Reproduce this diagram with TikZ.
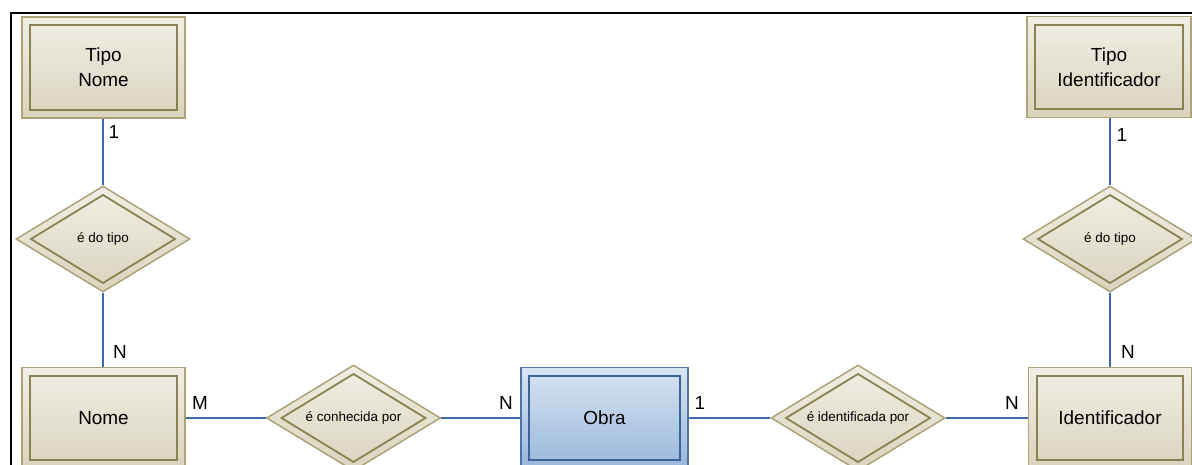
\documentclass[tikz,border=0pt]{standalone}
\usepackage{fontspec}
\setmainfont{Liberation Sans}
\usetikzlibrary{shapes.geometric}
\definecolor{begtop}{RGB}{240,238,229}
\definecolor{begbot}{RGB}{218,212,190}
\definecolor{begout}{RGB}{172,163,120}
\definecolor{begin}{RGB}{138,130,80}
\definecolor{blutop}{RGB}{216,228,242}
\definecolor{blubot}{RGB}{152,183,219}
\definecolor{bluout}{RGB}{78,116,165}
\definecolor{bluin}{RGB}{60,100,152}
\definecolor{conn}{RGB}{62,106,166}
\tikzset{
  x=1bp, y=-1bp,
  entbox/.style={rectangle, draw=begout, line width=1.5bp, top color=begtop, bottom color=begbot,
    minimum width=163bp, minimum height=101bp, inner sep=0pt, align=center,
    font=\fontsize{19}{25}\selectfont},
  mainbox/.style={entbox, draw=bluout, top color=blutop, bottom color=blubot, minimum width=167bp},
  relbox/.style={diamond, draw=begout, line width=1.5bp, top color=begtop, bottom color=begbot,
    minimum width=174bp, minimum height=106bp, inner sep=0pt, aspect=1.64,
    font=\fontsize{13.5}{15}\selectfont},
  innerline/.style={draw=begin, line width=1.8bp},
  conline/.style={draw=conn, line width=1.8bp},
  card/.style={font=\fontsize{19}{21}\selectfont, inner sep=0pt}
}
\newcommand\innerrect[2][begin]{\draw[innerline, draw=#1] ([shift={(9bp,-9bp)}]#2.north west) rectangle ([shift={(-9bp,9bp)}]#2.south east);}
\newcommand\innerdiam[1]{\draw[innerline] ([xshift=-72bp]#1.center) -- ([yshift=44bp]#1.center) -- ([xshift=72bp]#1.center) -- ([yshift=-44bp]#1.center) -- cycle;}
\begin{document}
\begin{tikzpicture}
\useasboundingbox (0,0) rectangle (1192,465);
\clip (0,0) rectangle (1192,465);
\fill[white] (0,0) rectangle (1192,465);
\draw[line width=2.2bp, black] (11,470) -- (11,13) -- (1195,13);

\node[entbox] (tn) at (103.5,67.5) {Tipo\\Nome};
\innerrect{tn}
\node[relbox] (r1) at (103,239) {é do tipo};
\innerdiam{r1}
\node[entbox] (nome) at (103.5,418) {Nome};
\innerrect{nome}
\node[relbox] (rc) at (353.5,418) {é conhecida por};
\innerdiam{rc}
\node[mainbox] (obra) at (604.5,418) {Obra};
\innerrect[bluin]{obra}
\node[relbox] (ri) at (858,418) {é identificada por};
\innerdiam{ri}
\node[entbox] (ident) at (1110,418) {Identificador};
\innerrect{ident}
\node[entbox, minimum width=164bp] (ti) at (1109,67) {Tipo\\Identificador};
\innerrect{ti}
\node[relbox] (r2) at (1110,239) {é do tipo};
\innerdiam{r2}

\draw[conline] (tn.south -| r1.north) -- (r1.north);
\draw[conline] (r1.south) -- (nome.north -| r1.south);
\draw[conline] (nome.east) -- (rc.west);
\draw[conline] (rc.east) -- (obra.west);
\draw[conline] (obra.east) -- (ri.west);
\draw[conline] (ri.east) -- (ident.west);
\draw[conline] (ti.south -| r2.north) -- (r2.north);
\draw[conline] (r2.south) -- (ident.north -| r2.south);

\node[card] (c1) at (114,132) {1};
\node[card] (c2) at (120,352) {N};
\node[card] (c3) at (200,403) {M};
\node[card] (c4) at (506,403) {N};
\node[card] (c5) at (700,403) {1};
\node[card] (c6) at (1012,403) {N};
\node[card] (c7) at (1122,135) {1};
\node[card] (c8) at (1128,352) {N};
\end{tikzpicture}
\end{document}
